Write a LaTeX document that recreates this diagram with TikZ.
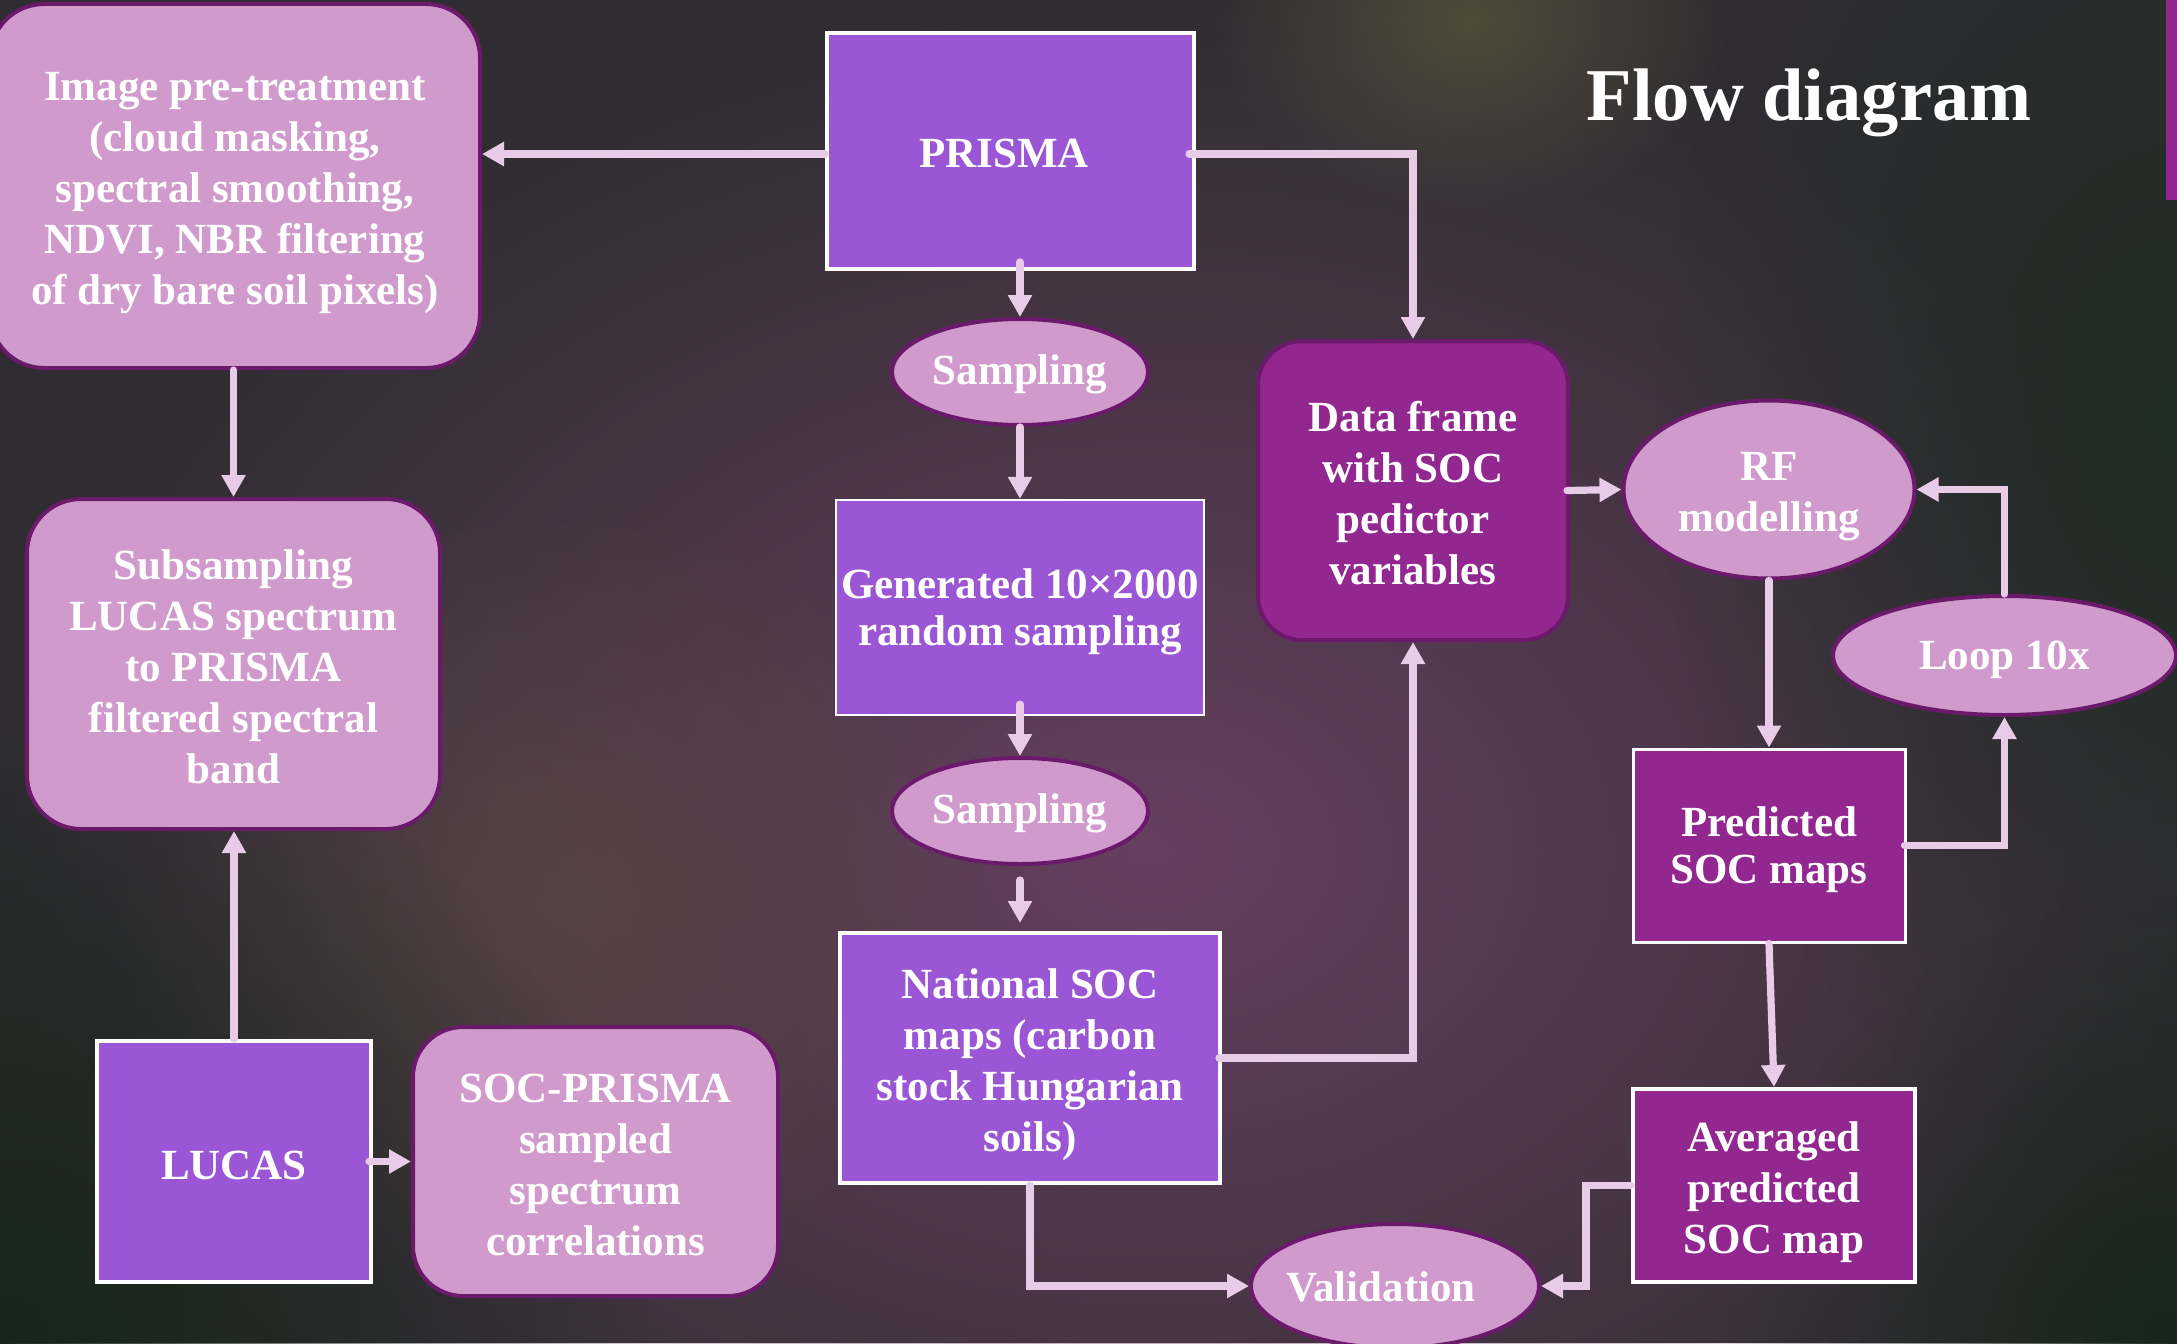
\documentclass[tikz,border=0pt]{standalone}
\usepackage{fontspec}
\setmainfont{Liberation Serif}
\usetikzlibrary{shapes.geometric,arrows.meta,calc,fadings}
\definecolor{bgbase}{HTML}{302D32}
\definecolor{glowpurple}{HTML}{66405F}
\definecolor{glowbrown}{HTML}{5A4A42}
\definecolor{glowgreen}{HTML}{16261A}
\definecolor{glowgreenb}{HTML}{1F2C24}
\definecolor{glowyellow}{HTML}{4F4C3A}
\definecolor{pinkf}{HTML}{D09ACD}
\definecolor{darkp}{HTML}{6B1A6B}
\definecolor{purf}{HTML}{9A56D4}
\definecolor{magf}{HTML}{91278F}
\definecolor{arrowc}{HTML}{E8CBE6}
\newcommand{\liftline}[1]{\rule{0pt}{#1}}
\tikzfading[name=glow, inner color=transparent!0, outer color=transparent!100]
\begin{document}
\begin{tikzpicture}[x=0.5pt,y=-0.5pt,
  txt/.style={text=white, font=\fontsize{21.5pt}{25.5pt}\selectfont\bfseries, align=center, inner sep=0pt},
  pinkround/.style={txt, rectangle, draw=darkp, line width=2pt, fill=pinkf, rounded corners=27pt},
  maground/.style={txt, rectangle, draw=darkp, line width=2pt, fill=magf, rounded corners=22pt},
  pinkell/.style={txt, ellipse, draw=darkp, line width=2pt, fill=pinkf},
  purbox/.style={txt, rectangle, fill=purf, draw=white, line width=2pt},
  magbox/.style={txt, rectangle, fill=magf, draw=white, line width=1.5pt},
  conn/.style={draw=arrowc, line width=3.6pt, line cap=round, -{Triangle[length=11pt,width=11.5pt]}}
]
\useasboundingbox (0,0) rectangle (2177,1343);
\clip (0,0) rectangle (2177,1343);
% background
\fill[bgbase] (0,0) rectangle (2177,1343);
\fill[glowpurple, path fading=glow] (1150,850) ellipse (1150 and 850);
\fill[glowbrown, path fading=glow, fill opacity=0.7] (560,900) ellipse (450 and 400);
\fill[glowgreen, path fading=glow] (0,1343) ellipse (650 and 650);
\fill[glowgreenb, path fading=glow] (2177,420) ellipse (520 and 760);
\fill[glowgreen, path fading=glow] (2177,1343) ellipse (450 and 450);
\fill[glowyellow, path fading=glow] (1470,20) ellipse (260 and 200);
\fill[magf] (2166,0) rectangle (2177,200);
% title
\node[text=white, font=\fontsize{37.25pt}{40pt}\selectfont\bfseries, anchor=base, inner sep=0pt] (title) at (1809,120) {Flow diagram};
% nodes
\node[pinkround, minimum width=245pt, minimum height=182pt] (pre) at (235,186)
  {\liftline{21.3pt}Image pre-treatment\\(cloud masking,\\spectral smoothing,\\NDVI, NBR filtering\\of dry bare soil pixels)};
\node[purbox, minimum width=183.5pt, minimum height=118pt] (prisma) at (1010.5,151) {\hspace*{-6.5pt}\liftline{17pt}PRISMA};
\node[pinkell, minimum width=128pt, minimum height=53pt] (samp1) at (1020,372) {\liftline{17.6pt}Sampling};
\node[purbox, line width=1.2pt, minimum width=184pt, minimum height=107.5pt, font=\fontsize{21.5pt}{23.5pt}\selectfont\bfseries] (gen) at (1020,607.5) {\liftline{19pt}Generated 10×2000\\random sampling};
\node[pinkell, minimum width=128pt, minimum height=53pt] (samp2) at (1020,811) {\liftline{17.6pt}Sampling};
\node[purbox, minimum width=190pt, minimum height=125pt] (nat) at (1030,1058)
  {\liftline{21.8pt}National SOC\\maps (carbon\\stock Hungarian\\soils)};
\node[maground, minimum width=155pt, minimum height=149.5pt] (data) at (1413,490.5)
  {\liftline{17.6pt}Data frame\\with SOC\\pedictor\\variables};
\node[pinkell, minimum width=145.5pt, minimum height=89pt] (rf) at (1769,489.5) {\liftline{21.2pt}RF\\modelling};
\node[pinkell, minimum width=171.5pt, minimum height=59.5pt] (loop) at (2004.5,655.5) {\liftline{19pt}Loop 10x};
\node[magbox, minimum width=136pt, minimum height=96.5pt, font=\fontsize{21.5pt}{23.5pt}\selectfont\bfseries] (pred) at (1769,845.5) {\liftline{19pt}Predicted\\SOC maps};
\node[magbox, line width=2pt, minimum width=141pt, minimum height=96.5pt] (avg) at (1774,1185.5) {\liftline{21.8pt}Averaged\\predicted\\SOC map};
\node[pinkell, minimum width=144pt, minimum height=62pt] (val) at (1395,1286) {\hspace*{-14pt}\liftline{16pt}Validation};
\node[pinkround, minimum width=206.5pt, minimum height=165pt] (sub) at (233.5,664)
  {\liftline{17.6pt}Subsampling\\LUCAS spectrum\\to PRISMA\\filtered spectral\\band};
\node[purbox, minimum width=137pt, minimum height=120.5pt] (lucas) at (234,1161.5) {\liftline{18.4pt}LUCAS};
\node[pinkround, rounded corners=25pt, minimum width=182.5pt, minimum height=134.5pt] (socp) at (595.5,1161.5)
  {\liftline{17.4pt}SOC-PRISMA\\sampled\\spectrum\\correlations};
% connectors
\draw[conn] ($(prisma.west)+(0,3)$) -- ($(prisma.west -| pre.east)+(0,3)$);
\draw[conn] ($(samp1.north |- prisma.south)+(0,-9)$) -- (samp1.north);
\draw[conn] (samp1.south) -- (gen.north);
\draw[conn] ($(gen.south)+(0,-12)$) -- (samp2.north);
\draw[conn] ($(samp2.south)+(0,14)$) -- ($(nat.north -| samp2.south)+(0,-8)$);
\draw[conn] ($(prisma.east)+(-7,3)$) -| (data.north);
\draw[conn] ($(nat.east)+(-3,0)$) -| (data.south);
\draw[conn] (nat.south) |- (val.west);
\draw[conn] ($(data.east)+(-3,0)$) -- (rf.west);
\draw[conn] (rf.south) -- (pred.north);
\draw[conn] ($(pred.east)+(-2,0)$) -| (loop.south);
\draw[conn] (loop.north) |- (rf.east);
\draw[conn] (pred.south) -- (avg.north);
\draw[conn] (avg.west) -- ++(-45,0) |- (val.east);
\draw[conn] (sub.north |- pre.south) -- (sub.north);
\draw[conn] (lucas.north) -- (lucas.north |- sub.south);
\draw[conn] ($(lucas.east)+(-4,0)$) -- (socp.west);
\end{tikzpicture}
\end{document}
